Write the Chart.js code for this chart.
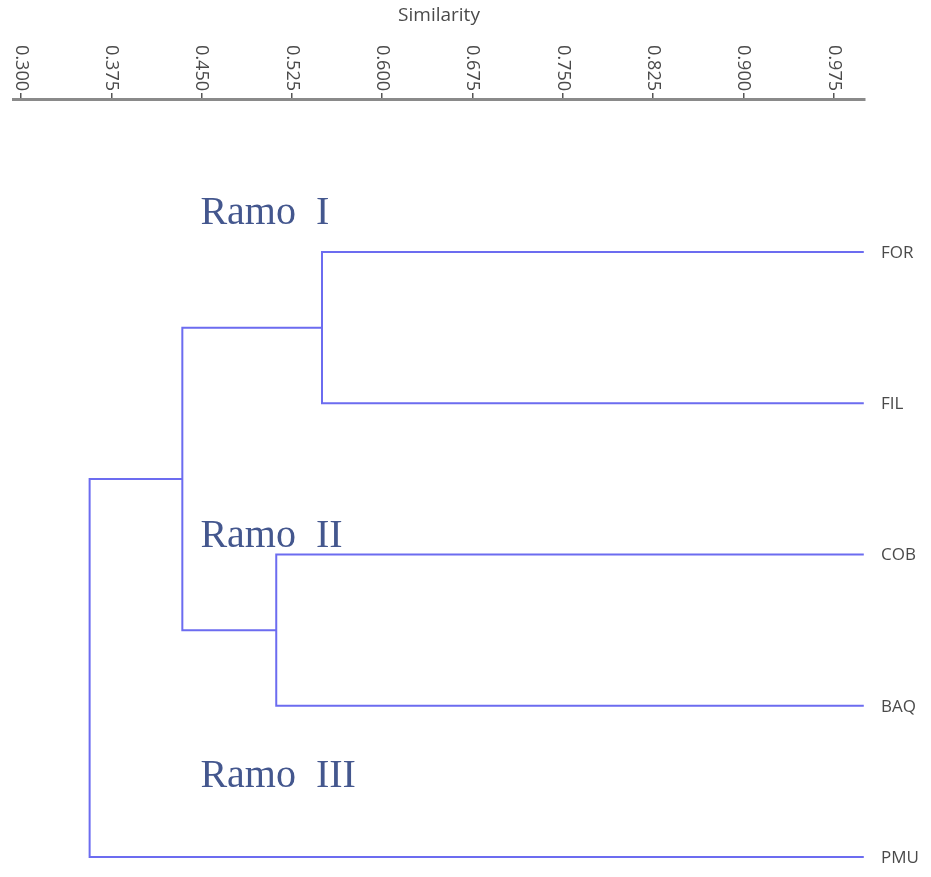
<!DOCTYPE html>
<html>
<head>
<meta charset="utf-8">
<script src="https://cdn.jsdelivr.net/npm/chart.js@4/dist/chart.umd.min.js"></script>
<style>
  html, body { margin: 0; padding: 0; background: #ffffff; }
  #wrap { width: 931px; height: 877px; }
</style>
</head>
<body>
<div id="wrap"><canvas id="c" width="931" height="877"></canvas></div>
<script>
// ---- data ----
const leafLabels = ['FOR', 'FIL', 'COB', 'BAQ', 'PMU'];
const leafSimilarity = 1.0;
const mergeIds = ['C1', 'C2', 'C3', 'C4'];
const mergeLeft = ['FOR', 'COB', 'C1', 'C3'];
const mergeRight = ['FIL', 'BAQ', 'C2', 'PMU'];
const mergeSimilarity = [0.550, 0.512, 0.434, 0.357];
const tickValues = [0.300, 0.375, 0.450, 0.525, 0.600, 0.675, 0.750, 0.825, 0.900, 0.975];
const axisTitle = 'Similarity';
const branchLabels = ['Ramo I', 'Ramo II', 'Ramo III'];

// ---- layout / style (not data) ----
const branchAnchors = [{x: 0.449, y: -0.185}, {x: 0.449, y: 1.95}, {x: 0.449, y: 3.537}];
const lineColor = '#6c6cf0';
const textColor = '#4a4a4a';

// build dendrogram segments from merges
const pos = {};
leafLabels.forEach((n, i) => { pos[n] = {x: leafSimilarity, y: i}; });
const datasets = [];
mergeIds.forEach((id, k) => {
  const l = pos[mergeLeft[k]], r = pos[mergeRight[k]], s = mergeSimilarity[k];
  datasets.push({
    data: [{x: l.x, y: l.y}, {x: s, y: l.y}, {x: s, y: r.y}, {x: r.x, y: r.y}],
    borderColor: lineColor,
    borderWidth: 2,
    pointRadius: 0,
    tension: 0,
    fill: false,
    borderJoinStyle: 'miter',
    borderCapStyle: 'butt'
  });
  pos[id] = {x: s, y: (l.y + r.y) / 2};
});

const labelPlugin = {
  id: 'labels',
  afterDraw(chart) {
    const ctx = chart.ctx;
    const xs = chart.scales.x, ys = chart.scales.y;
    const top = chart.chartArea.top;
    ctx.save();
    // tick labels, rotated clockwise
    ctx.fillStyle = textColor;
    ctx.font = '18px "Open Sans", sans-serif';
    ctx.textAlign = 'right';
    ctx.textBaseline = 'middle';
    tickValues.forEach(v => {
      const x = xs.getPixelForValue(v);
      ctx.save();
      ctx.translate(x, top - 8);
      ctx.rotate(Math.PI / 2);
      ctx.fillText(v.toFixed(3), 0, 0);
      ctx.restore();
    });
    // leaf labels
    ctx.font = '17px "Open Sans", sans-serif';
    ctx.textAlign = 'left';
    ctx.textBaseline = 'middle';
    leafLabels.forEach((n, i) => {
      ctx.fillText(n, chart.chartArea.right + 16, ys.getPixelForValue(i) + 1);
    });
    // branch labels (word and numeral with a wider gap, as in the source)
    ctx.fillStyle = '#44578e';
    ctx.font = '40px "Liberation Serif", serif';
    ctx.textAlign = 'left';
    ctx.textBaseline = 'alphabetic';
    branchLabels.forEach((t, i) => {
      const x = xs.getPixelForValue(branchAnchors[i].x);
      const y = ys.getPixelForValue(branchAnchors[i].y);
      const sp = t.indexOf(' ');
      const word = t.slice(0, sp), num = t.slice(sp + 1);
      ctx.fillText(word, x, y);
      ctx.fillText(num, x + ctx.measureText(word).width + 20, y);
    });
    ctx.restore();
  }
};

new Chart(document.getElementById('c'), {
  type: 'line',
  data: { datasets },
  options: {
    responsive: false,
    animation: false,
    events: [],
    layout: { padding: { left: 13, right: 66, top: 0, bottom: 0 } },
    plugins: { legend: { display: false }, tooltip: { enabled: false } },
    scales: {
      x: {
        type: 'linear',
        position: 'top',
        min: 0.29336,
        max: 1.001,
        afterBuildTicks: (s) => { s.ticks = tickValues.map(v => ({value: v})); },
        afterFit: (s) => { s.height = 99; },
        ticks: { display: false },
        grid: { display: true, drawOnChartArea: false, drawTicks: true, tickLength: 6, color: '#555555', lineWidth: 1.5 },
        border: { display: true, color: '#8a8a8a', width: 3 },
        title: { display: true, text: axisTitle, color: textColor, font: { family: '"Open Sans", sans-serif', size: 19 }, padding: { top: 4, bottom: 0 } }
      },
      y: {
        type: 'linear',
        display: false,
        reverse: true,
        min: -1.0116,
        max: 4.132
      }
    }
  },
  plugins: [labelPlugin]
});
</script>
</body>
</html>
